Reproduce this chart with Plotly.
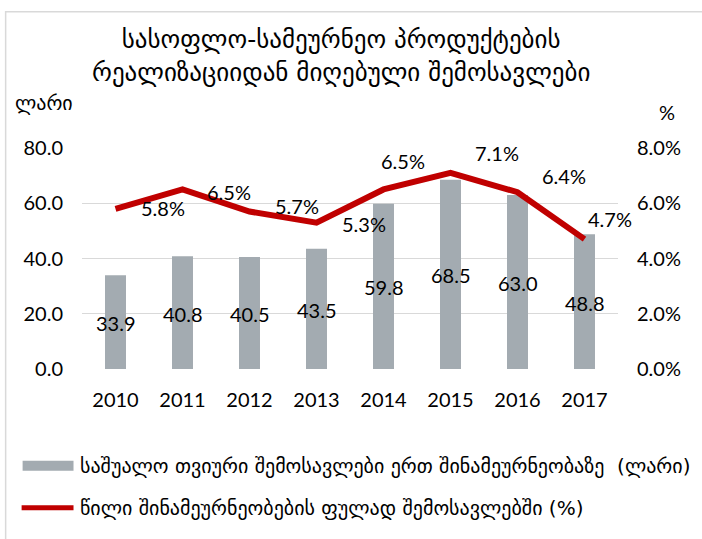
import plotly.graph_objects as go

years = [2010, 2011, 2012, 2013, 2014, 2015, 2016, 2017]
year_labels = ["2010", "2011", "2012", "2013", "2014", "2015", "2016", "2017"]
income = [33.9, 40.8, 40.5, 43.5, 59.8, 68.5, 63.0, 48.8]
share = [5.8, 6.5, 5.7, 5.3, 6.5, 7.1, 6.4, 4.7]
left_ticks = [0, 20, 40, 60, 80]
left_labels = ["0.0", "20.0", "40.0", "60.0", "80.0"]
right_ticks = [0, 2, 4, 6, 8]
right_labels = ["0.0%", "2.0%", "4.0%", "6.0%", "8.0%"]

title_text = "სასოფლო-სამეურნეო პროდუქტების<br>რეალიზაციიდან მიღებული შემოსავლები"
bar_name = "საშუალო თვიური შემოსავლები ერთ შინამეურნეობაზე  (ლარი)"
line_name = "წილი შინამეურნეობების ფულად შემოსავლებში (%)"

W, H = 702, 539
L, R, T, B = 81.5, 618.5, 147.5, 369.0
GEO = "DejaVu Sans"
NUM = "Lato"

def px(x):
    return (x - L) / (R - L)

def py(y):
    return (B - y) / (B - T)

fig = go.Figure()
fig.add_trace(go.Bar(x=years, y=income, marker=dict(color="#a3abb1", line=dict(width=0)),
                     width=0.313, name=bar_name, showlegend=False, yaxis="y", xaxis="x"))
fig.add_trace(go.Scatter(x=years, y=share, mode="lines", name=line_name,
                         line=dict(color="#c00000", width=6), showlegend=False,
                         yaxis="y2", xaxis="x"))

annotations = []
for yr, v in zip(years, income):
    annotations.append(dict(x=yr, y=v / 2, xref="x", yref="y", text=f"{v:.1f}",
                            showarrow=False, yshift=-1,
                            font=dict(family=NUM, size=20, color="#000")))
shifts = [(47, 1), (46, -3), (47, 6), (47, -1), (19, 28), (46, 20), (46, 16), (25, 20)]
for yr, v, (dx, dy) in zip(years, share, shifts):
    annotations.append(dict(x=yr, y=v, xref="x", yref="y2", text=f"{v:.1f}%",
                            showarrow=False, xshift=dx, yshift=dy,
                            font=dict(family=NUM, size=20, color="#000")))
annotations.append(dict(x=px(341), y=py(55), xref="paper", yref="paper", text=title_text,
                        showarrow=False, xanchor="center", yanchor="middle",
                        font=dict(family=GEO, size=25, color="#000")))
annotations.append(dict(x=px(12), y=py(102), xref="paper", yref="paper", text="ლარი",
                        showarrow=False, xanchor="left", yanchor="middle",
                        font=dict(family=GEO, size=20, color="#000")))
annotations.append(dict(x=px(668), y=py(111), xref="paper", yref="paper", text="%",
                        showarrow=False, xanchor="center", yanchor="middle",
                        font=dict(family=NUM, size=20, color="#000")))
annotations.append(dict(x=px(77), y=py(466), xref="paper", yref="paper", text=bar_name,
                        showarrow=False, xanchor="left", yanchor="middle",
                        font=dict(family=GEO, size=20, color="#000")))
annotations.append(dict(x=px(77), y=py(508), xref="paper", yref="paper", text=line_name,
                        showarrow=False, xanchor="left", yanchor="middle",
                        font=dict(family=GEO, size=20, color="#000")))

shapes = [
    dict(type="rect", xref="paper", yref="paper", x0=px(5), x1=px(712), y0=py(11), y1=py(560),
         line=dict(color="#d9d9d9", width=1.5), fillcolor="rgba(0,0,0,0)", layer="below"),
    dict(type="rect", xref="paper", yref="paper", x0=px(22), x1=px(73), y0=py(461), y1=py(471),
         line=dict(width=0), fillcolor="#a3abb1"),
    dict(type="line", xref="paper", yref="paper", x0=px(21), x1=px(73), y0=py(508), y1=py(508),
         line=dict(color="#c00000", width=5)),
]

fig.update_layout(
    width=W, height=H,
    margin=dict(l=L, r=W - R, t=T, b=H - B, autoexpand=False),
    paper_bgcolor="white", plot_bgcolor="white",
    showlegend=False,
    xaxis=dict(type="linear", range=[2009.5, 2017.5], tickmode="array", tickvals=years,
               ticktext=year_labels, showgrid=False, showline=False, zeroline=False,
               ticks="outside", ticklen=13, tickcolor="rgba(0,0,0,0)",
               tickfont=dict(family=NUM, size=20, color="#000")),
    yaxis=dict(type="linear", range=[0, 80], tickmode="array", tickvals=left_ticks,
               ticktext=left_labels, showgrid=True,
               gridcolor="#d9d9d9", gridwidth=1, zeroline=False, showline=False, ticks="outside",
               ticklen=14, tickcolor="rgba(0,0,0,0)",
               tickfont=dict(family=NUM, size=20, color="#000")),
    yaxis2=dict(type="linear", range=[0, 8], tickmode="array", tickvals=right_ticks,
                ticktext=right_labels, overlaying="y", side="right", anchor="x",
                showgrid=False, zeroline=False, showline=False,
                ticks="outside", ticklen=14, tickcolor="rgba(0,0,0,0)",
                tickfont=dict(family=NUM, size=20, color="#000")),
    annotations=annotations,
    shapes=shapes,
)

fig.write_html("out.html")
